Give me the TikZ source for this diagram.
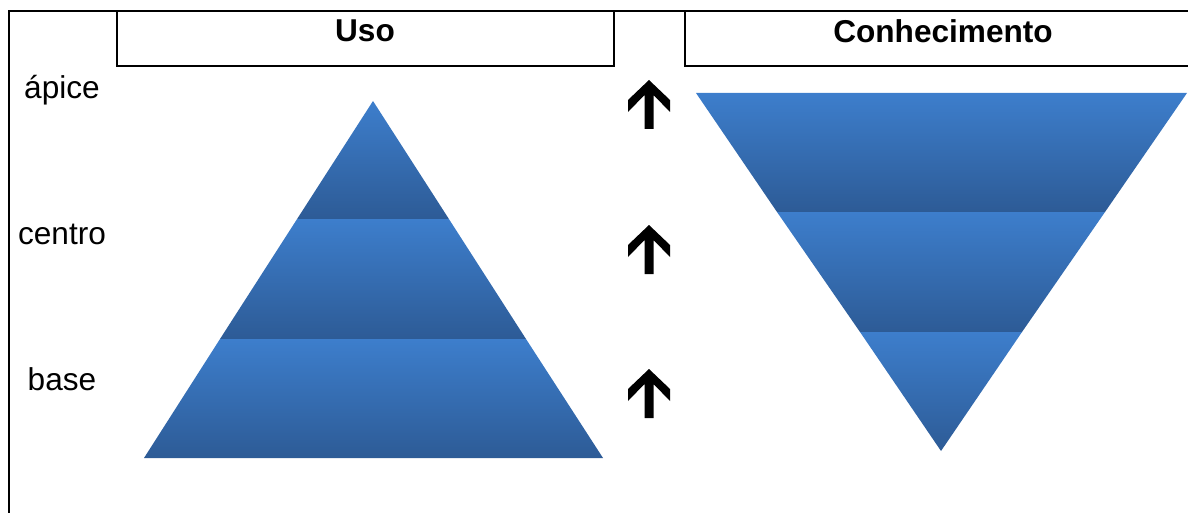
\documentclass[tikz,border=0pt]{standalone}
\usepackage{fontspec}
\setmainfont{Liberation Sans}
\definecolor{bandtop}{HTML}{3D7ECC}
\definecolor{bandbot}{HTML}{2D5B96}
\tikzset{
  frame/.style={line width=2.4pt, line cap=rect},
  band/.style={top color=bandtop, bottom color=bandbot},
  lbl/.style={font=\fontsize{31.6}{36}\selectfont, anchor=center, inner sep=0pt},
  head/.style={font=\bfseries\fontsize{31.6}{36}\selectfont, anchor=center, inner sep=0pt},
  uparrow/.pic={\fill[black] (0,0) -- (-21,20) -- (-21,32) -- (-4.5,15) -- (-4.5,49)
     -- (4.5,49) -- (4.5,15) -- (21,32) -- (21,20) -- cycle;}
}
\begin{document}
\begin{tikzpicture}[x=1pt,y=-1pt]
\useasboundingbox (0,0) rectangle (1188,513);
% frame
\draw[frame] (9,513) -- (9,11) -- (1190,11);
\draw[frame] (117,11) -- (117,66) -- (614,66) -- (614,11);
\draw[frame] (685,11) -- (685,66) -- (1190,66);
% headings
\node[head] (uso) at (365,31) {Uso};
\node[head] (con) at (943,31) {Conhecimento};
% side labels
\node[lbl] (apice) at (62,90) {ápice};
\node[lbl] (centro) at (62,234) {centro};
\node[lbl] (base) at (62,379) {base};
% left pyramid
\shade[band] (373,101) -- (448.9,219) -- (297.1,219) -- cycle;
\shade[band] (297.1,219) -- (448.9,219) -- (526,339) -- (220,339) -- cycle;
\shade[band] (220,339) -- (526,339) -- (603,458) -- (144,458) -- cycle;
% right inverted pyramid
\shade[band] (696,93) -- (1187,93) -- (1105,212) -- (777,212) -- cycle;
\shade[band] (777,212) -- (1105,212) -- (1022,332) -- (860,332) -- cycle;
\shade[band] (860,332) -- (1022,332) -- (941,451) -- cycle;
% arrows
\pic at (649,80) {uparrow};
\pic at (649,225) {uparrow};
\pic at (649,369) {uparrow};
\end{tikzpicture}
\end{document}
